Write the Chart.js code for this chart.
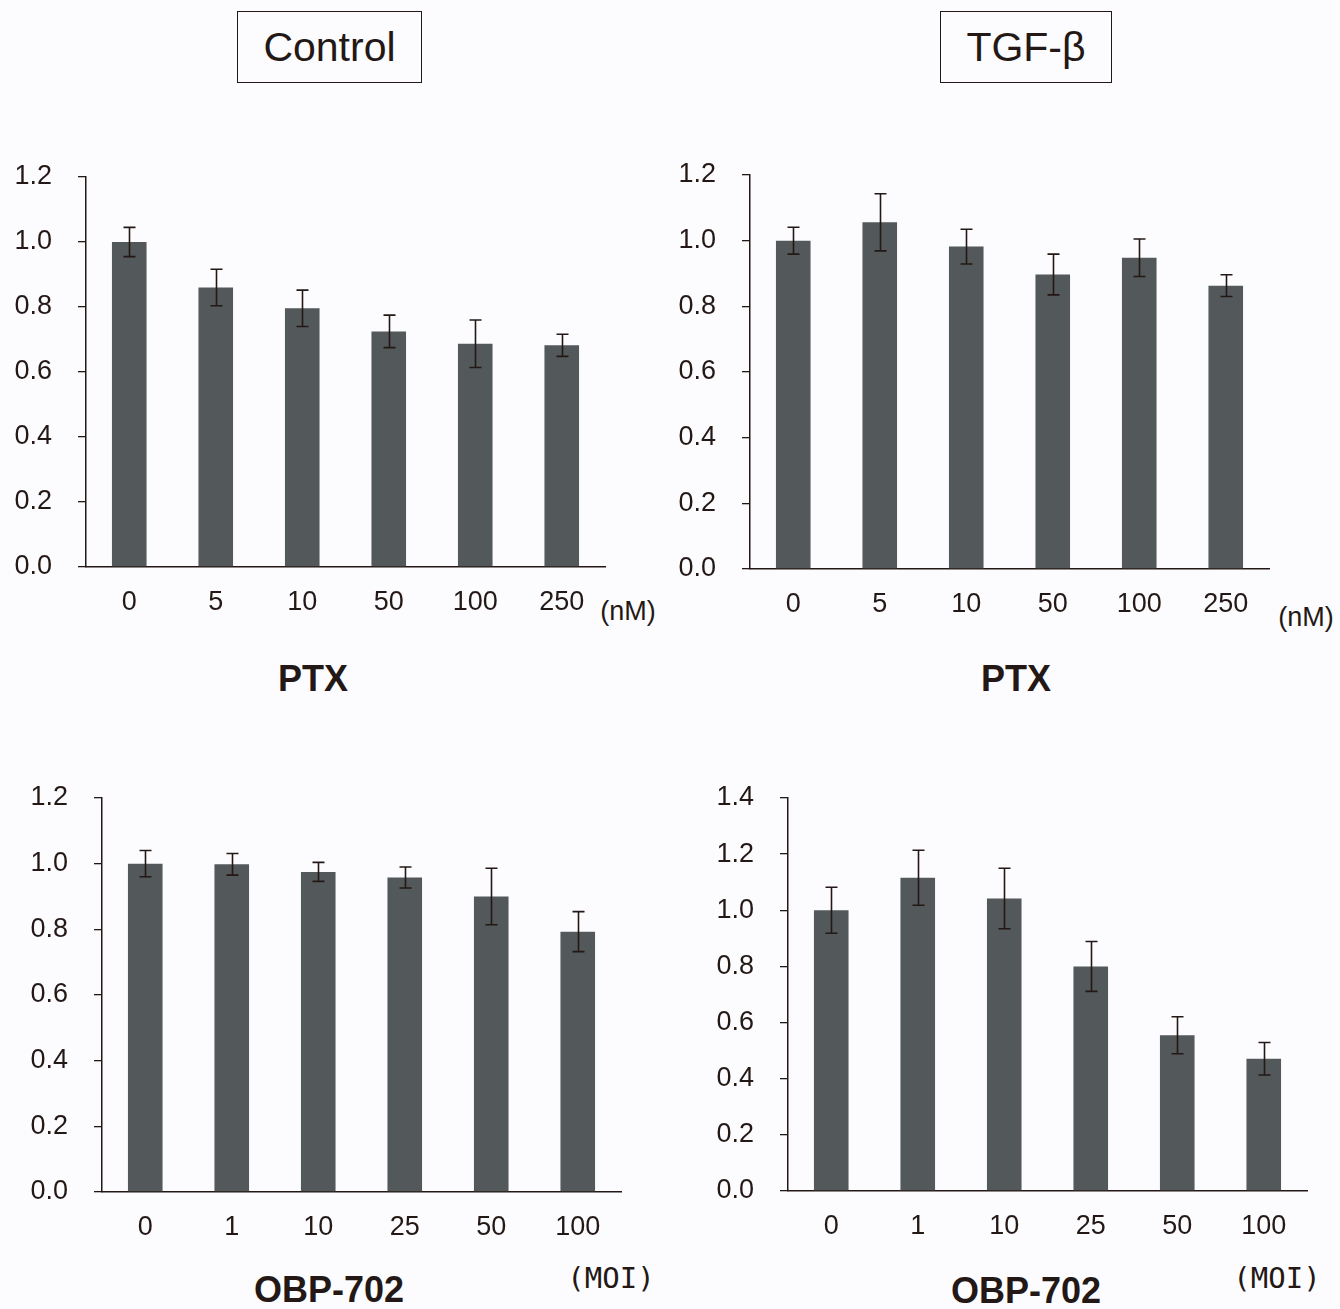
<!DOCTYPE html>
<html>
<head>
<meta charset="utf-8">
<script src="https://cdn.jsdelivr.net/npm/chart.js@4/dist/chart.umd.min.js"></script>
<style>
  html, body { margin: 0; padding: 0; background: #fcfcfe; }
  body { width: 1340px; height: 1309px; position: relative; overflow: hidden; font-family: "Liberation Sans", Arial, sans-serif; color: #231815; }
  canvas { position: absolute; }
  .box { position: absolute; box-sizing: border-box; border: 1.5px solid #231815; display: flex; align-items: center; justify-content: center; font-size: 41px; height: 72px; top: 11px; }
  .lbl { position: absolute; transform: translate(-50%, -50%); white-space: nowrap; }
  .bold { font-weight: bold; font-size: 36px; }
  .unit { font-size: 27px; }
  .moi { font-family: "DejaVu Sans Mono", monospace; font-size: 29px; }
</style>
</head>
<body>
<div class="box" style="left:237px; width:185px;">Control</div>
<div class="box" style="left:940px; width:172px;">TGF-β</div>

<div class="lbl bold" style="left:313px; top:679px;">PTX</div>
<div class="lbl bold" style="left:1016px; top:679px;">PTX</div>
<div class="lbl bold" style="left:329px; top:1290px;">OBP-702</div>
<div class="lbl bold" style="left:1026px; top:1291px;">OBP-702</div>
<div class="lbl unit" style="left:628px; top:611px;">(nM)</div>
<div class="lbl unit" style="left:1306px; top:617px;">(nM)</div>
<div class="lbl moi" style="left:611px; top:1278px;">(MOI)</div>
<div class="lbl moi" style="left:1277px; top:1278px;">(MOI)</div>

<canvas id="c1"></canvas>
<canvas id="c2"></canvas>
<canvas id="c3"></canvas>
<canvas id="c4"></canvas>

<script>
// ---- data ----
const ptxLabels = ['0', '5', '10', '50', '100', '250'];
const obpLabels = ['0', '1', '10', '25', '50', '100'];

const ptxControl    = [1.00, 0.860, 0.796, 0.725, 0.687, 0.682];
const ptxControlErr = [0.045, 0.056, 0.056, 0.050, 0.073, 0.034];

const ptxTgf    = [1.00, 1.056, 0.982, 0.897, 0.948, 0.863];
const ptxTgfErr = [0.041, 0.087, 0.053, 0.062, 0.057, 0.033];

const obpControl    = [1.00, 0.998, 0.975, 0.958, 0.900, 0.793];
const obpControlErr = [0.040, 0.033, 0.029, 0.032, 0.086, 0.061];

const obpTgf    = [1.00, 1.116, 1.042, 0.800, 0.555, 0.471];
const obpTgfErr = [0.082, 0.098, 0.108, 0.089, 0.066, 0.058];

const yMaxTop = 1.2;
const yMaxBottomLeft = 1.2;
const yMaxBottomRight = 1.4;
// ---- end data ----

const INK = '#231815';
const BAR = '#53585a';
const YW = 90, XH = 60, PT = 30, PR = 20;

const errorBarPlugin = {
  id: 'errorBars',
  afterDatasetsDraw(chart) {
    const ctx = chart.ctx;
    const ys = chart.scales.y;
    chart.data.datasets.forEach((ds, di) => {
      const meta = chart.getDatasetMeta(di);
      meta.data.forEach((bar, i) => {
        const v = ds.data[i], e = ds.errors[i];
        const yTop = ys.getPixelForValue(v + e);
        const yBot = ys.getPixelForValue(v - e);
        const x = Math.round(bar.x) + 0.5;
        ctx.save();
        ctx.strokeStyle = INK;
        ctx.lineWidth = 1.6;
        ctx.beginPath();
        ctx.moveTo(x, yTop); ctx.lineTo(x, yBot);
        ctx.moveTo(x - 6, yTop); ctx.lineTo(x + 6, yTop);
        ctx.moveTo(x - 6, yBot); ctx.lineTo(x + 6, yBot);
        ctx.stroke();
        ctx.restore();
      });
    });
  }
};

function makePanel(id, axisX, right, top, bottom, labels, values, errors, yMax) {
  const cv = document.getElementById(id);
  const w = YW + (right - axisX) + PR;
  const h = PT + (bottom - top) + XH;
  cv.width = w; cv.height = h;
  cv.style.left = (axisX - YW) + 'px';
  cv.style.top = (top - PT) + 'px';
  cv.style.width = w + 'px';
  cv.style.height = h + 'px';
  const chart = new Chart(cv, {
    type: 'bar',
    data: {
      labels: labels,
      datasets: [{
        data: values,
        errors: errors,
        backgroundColor: BAR,
        borderWidth: 0,
        barPercentage: 0.4,
        categoryPercentage: 1.0
      }]
    },
    options: {
      responsive: false,
      animation: false,
      devicePixelRatio: 1,
      layout: { padding: { top: PT, right: PR, left: 0, bottom: 0 } },
      plugins: { legend: { display: false }, tooltip: { enabled: false } },
      scales: {
        x: {
          offset: true,
          grid: { display: false, drawTicks: false, tickLength: 0 },
          border: { display: true, color: INK, width: 1.5 },
          ticks: { color: INK, padding: 19, font: { family: 'Liberation Sans', size: 27 }, maxRotation: 0, autoSkip: false },
          afterFit(s) { s.height = XH; s.paddingLeft = 0; s.paddingRight = 0; }
        },
        y: {
          min: 0, max: yMax,
          grid: { display: true, drawOnChartArea: false, drawTicks: true, tickLength: 8, color: INK, lineWidth: 1.3 },
          border: { display: true, color: INK, width: 1.5 },
          ticks: { stepSize: 0.2, color: INK, padding: 26, font: { family: 'Liberation Sans', size: 27 },
                   callback: v => Number(v).toFixed(1) },
          afterFit(s) { s.width = YW; s.paddingTop = 0; s.paddingBottom = 0; }
        }
      }
    },
    plugins: [errorBarPlugin]
  });
  // correct any layout drift so the plot area sits exactly where intended
  const ca = chart.chartArea;
  const wantTop = PT, wantBottom = PT + (bottom - top);
  const dTop = ca.top - wantTop;
  const dBot = ca.bottom - wantBottom;
  if (Math.abs(dTop) > 0.5 || Math.abs(dBot) > 0.5) {
    const newTop = top - PT - dTop;
    const newH = h + dTop - dBot;
    cv.style.top = newTop + 'px';
    chart.resize(w, newH);
    cv.style.height = newH + 'px';
  }
}

makePanel('c1', 86, 605, 177, 567, ptxLabels, ptxControl, ptxControlErr, yMaxTop);
makePanel('c2', 750, 1269, 175, 569, ptxLabels, ptxTgf, ptxTgfErr, yMaxTop);
makePanel('c3', 102, 621, 798, 1192, obpLabels, obpControl, obpControlErr, yMaxBottomLeft);
makePanel('c4', 788, 1307, 798, 1191, obpLabels, obpTgf, obpTgfErr, yMaxBottomRight);
</script>
</body>
</html>
